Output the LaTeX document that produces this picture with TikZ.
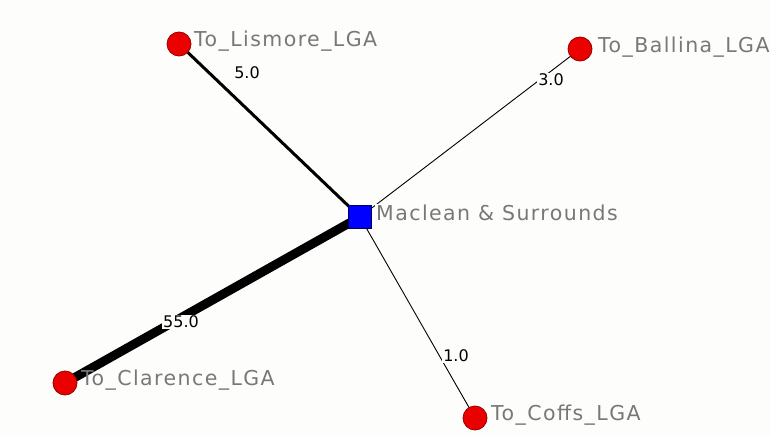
\documentclass[tikz,border=0pt]{standalone}
\usepackage{fontspec}
\setmainfont{DejaVu Sans}
\newfontfamily\labfont[LetterSpace=7]{DejaVu Sans}
\definecolor{bgc}{RGB}{253,253,252}
\definecolor{cityfill}{RGB}{235,0,0}
\definecolor{cityline}{RGB}{150,0,0}
\definecolor{hubfill}{RGB}{0,0,255}
\definecolor{hubline}{RGB}{0,0,90}
\definecolor{labgray}{RGB}{120,120,120}
\begin{document}
\begin{tikzpicture}[x=1pt,y=-1pt,
  city/.style={circle,draw=cityline,line width=0.8pt,fill=cityfill,minimum size=24pt,inner sep=0pt},
  hub/.style={rectangle,draw=hubline,line width=0.8pt,fill=hubfill,minimum size=23pt,inner sep=0pt},
  nlabel/.style={anchor=west,text=labgray,font=\labfont\fontsize{20.5}{23}\selectfont,inner sep=1pt},
  elabel/.style={fill=bgc,text=black,font=\fontsize{16}{19}\selectfont,inner sep=1pt},
  link/.style={draw=black}]
\useasboundingbox[fill=bgc] (0,0) rectangle (771,436);
\coordinate (mac) at (360,217);
\coordinate (lis) at (179,44);
\coordinate (bal) at (580,49);
\coordinate (cla) at (65,383);
\coordinate (cof) at (475,418);
\draw[link,line width=9pt] (mac) -- (cla);
\draw[link,line width=3pt] (mac) -- (lis);
\draw[link,line width=0.9pt] (mac) -- (bal);
\draw[link,line width=0.9pt] (mac) -- (cof);
\node[hub] (macn) at (mac) {};
\node[city] (lisn) at (lis) {};
\node[city] (baln) at (bal) {};
\node[city] (clan) at (cla) {};
\node[city] (cofn) at (cof) {};
\node[nlabel,fill=bgc] (macl) at (375,213) {Maclean \& Surrounds};
\node[nlabel] (lisl) at (193,41) {To\_Lismore\_LGA};
\node[nlabel] (ball) at (597,47) {To\_Ballina\_LGA};
\node[nlabel] (clal) at (80,380) {To\_Clarence\_LGA};
\node[nlabel] (cofl) at (490,415) {To\_Coffs\_LGA};
\node[elabel,fill=none] (e1) at (247,73) {5.0};
\node[elabel] (e2) at (551,80) {3.0};
\node[elabel] (e3) at (181,322) {55.0};
\node[elabel] (e4) at (456,356) {1.0};
\end{tikzpicture}
\end{document}
